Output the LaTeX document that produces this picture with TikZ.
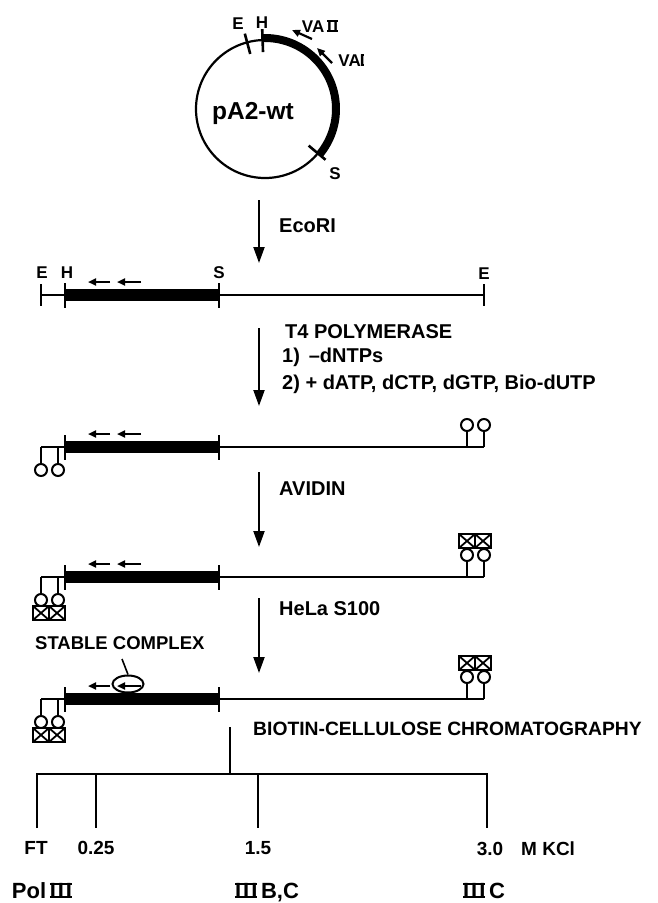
\documentclass[tikz,border=0pt]{standalone}
\usepackage{fontspec}
\setmainfont{Liberation Sans}
\usetikzlibrary{arrows.meta,calc,shapes.geometric}
\newcommand{\fsz}[1]{\fontsize{#1}{#1}\selectfont\bfseries}
\newcommand{\barnum}[2]{\setbox0\hbox{#2}%
  \rlap{\raisebox{\dimexpr\ht0-#1\relax}{\rule{\wd0}{#1}}}%
  \rlap{\rule{\wd0}{#1}}\box0}
\begin{document}
\begin{tikzpicture}[x=1pt,y=-1pt,
  lbl/.style={inner sep=0pt, anchor=base},
  lblw/.style={inner sep=0pt, anchor=base west},
  thinl/.style={line width=2.4pt},
  barl/.style={line width=12pt},
  tickl/.style={line width=2.6pt},
  mainarrow/.style={line width=2pt, -{Triangle[length=16pt,width=11pt]}},
  smallarrow/.style={line width=2.2pt, -{Triangle[length=8pt,width=7pt]}},
  bead/.style={circle, draw, line width=2pt, minimum size=12pt, inner sep=0pt},
  xbox/.style={line width=1.8pt}]
\useasboundingbox (0,0) rectangle (658,903);
% plasmid
\coordinate (C) at (265,109);
\node[circle, draw, line width=2.2pt, minimum size=138pt, inner sep=0pt] (plasmid) at (C) {};
\draw[line width=8pt] ($(C)+(92:71pt)$) arc[start angle=92, end angle=-40, radius=71pt];
\draw[tickl] ($(C)+(105:57pt)$) -- ($(C)+(105:78pt)$);
\draw[tickl] ($(C)+(92:57pt)$) -- ($(C)+(92:80pt)$);
\draw[tickl] ($(C)+(-40:57pt)$) -- ($(C)+(-40:79pt)$);
\node[lbl, font=\fsz{17}] (pe) at (238,29) {E};
\node[lbl, font=\fsz{17}] (ph) at (262,28) {H};
\node[lbl, font=\fsz{17}] (ps) at (335,179) {S};
\node[lbl, font=\fsz{17}] (va2) at (320,32) {VA\,\barnum{1.6pt}{I\kern1.5pt I}};
\node[lbl, font=\fsz{17}] (va1) at (351,66) {VA\barnum{1.6pt}{\kern-1pt I\kern-1pt}};
\coordinate (va2s) at (312,39); \coordinate (va2e) at (292,30);
\coordinate (va1s) at (332,63); \coordinate (va1e) at (317,48);
\draw[smallarrow] (va2s) -- (va2e);
\draw[smallarrow] (va1s) -- (va1e);
\node[lbl, font=\fsz{24.5}] (pname) at (253,119) {pA2-wt};
% main arrows
\coordinate (a1s) at (259,200); \coordinate (a1e) at (259,263);
\coordinate (a2s) at (259,328); \coordinate (a2e) at (259,406);
\coordinate (a3s) at (259,472); \coordinate (a3e) at (259,547);
\coordinate (a4s) at (259,598); \coordinate (a4e) at (259,673);
\draw[mainarrow] (a1s) -- (a1e);
\draw[mainarrow] (a2s) -- (a2e);
\draw[mainarrow] (a3s) -- (a3e);
\draw[mainarrow] (a4s) -- (a4e);
\node[lblw, font=\fsz{20}] (eco) at (279,232) {EcoRI};
\node[lblw, font=\fsz{20}] (t4) at (285,338) {T4 POLYMERASE};
\node[lblw, font=\fsz{20}] (st1) at (282,362) {1) \,–dNTPs};
\node[lblw, font=\fsz{20}] (st2) at (282,389) {2) + dATP, dCTP, dGTP, Bio-dUTP};
\node[lblw, font=\fsz{20}] (avi) at (279,495) {AVIDIN};
\node[lblw, font=\fsz{20}] (hela) at (279,615) {HeLa S100};
% DNA lines
\foreach \k/\Y in {1/295,2/447,3/577,4/699}{
  \coordinate (L\k) at (41,\Y);
  \coordinate (H\k) at (65,\Y);
  \coordinate (S\k) at (219,\Y);
  \coordinate (E\k) at (484,\Y);
  \draw[thinl] (L\k) -- (H\k);
  \draw[barl] (H\k) -- (S\k);
  \draw[thinl] (S\k) -- (E\k);
  \draw[tickl] ($(H\k)+(0,-12)$) -- ($(H\k)+(0,13)$);
  \draw[tickl] ($(S\k)+(0,-12)$) -- ($(S\k)+(0,13)$);
  \draw[smallarrow] (110,\Y-13) -- (88,\Y-13);
}
\foreach \k/\Y in {1/295,2/447,3/577}{
  \draw[smallarrow] (141,\Y-13) -- (117,\Y-13);
}
% line 1 ends
\draw[tickl] ($(L1)+(0,-11)$) -- ($(L1)+(0,11)$);
\draw[tickl] ($(E1)+(0,-11)$) -- ($(E1)+(0,11)$);
\node[lbl, font=\fsz{17}] (l1e) at (42,278) {E};
\node[lbl, font=\fsz{17}] (l1h) at (67,278) {H};
\node[lbl, font=\fsz{17}] (l1s) at (219,278) {S};
\node[lbl, font=\fsz{17}] (l1e2) at (484,279) {E};
% biotin beads, lines 2-4
\foreach \k/\Y in {2/447,3/577,4/699}{
  \node[bead] (lb1\k) at (41,\Y+23) {};
  \node[bead] (lb2\k) at (58,\Y+23) {};
  \draw[thinl] (L\k) -- (lb1\k.north);
  \draw[thinl] (58,\Y) -- (lb2\k.north);
  \node[bead] (rb1\k) at (467,\Y-22) {};
  \node[bead] (rb2\k) at (484,\Y-22) {};
  \draw[thinl] (467,\Y) -- (rb1\k.south);
  \draw[thinl] (E\k) -- (rb2\k.south);
}
% avidin boxes
\foreach \k/\Y in {3/577,4/699}{
  \foreach \bx in {33,49}{
    \draw[xbox] (\bx,\Y+29) rectangle (\bx+16,\Y+43);
    \draw[xbox] (\bx,\Y+29) -- (\bx+16,\Y+43);
    \draw[xbox] (\bx+16,\Y+29) -- (\bx,\Y+43);
  }
  \foreach \bx in {459,475}{
    \draw[xbox] (\bx,\Y-43) rectangle (\bx+16,\Y-29);
    \draw[xbox] (\bx,\Y-43) -- (\bx+16,\Y-29);
    \draw[xbox] (\bx+16,\Y-43) -- (\bx,\Y-29);
  }
}
% stable complex
\node[draw, ellipse, line width=2pt, minimum width=31pt, minimum height=17pt, inner sep=0pt] (cplx) at (128,684) {};
\draw[smallarrow] (141,686) -- (117,686);
\node[lblw, font=\fsz{18.5}] (stab) at (35,649) {STABLE COMPLEX};
\coordinate (lead) at (122,659);
\draw[line width=1.6pt] (lead) -- (cplx.north);
% chromatography
\node[lblw, font=\fsz{19.3}] (bio) at (253,735) {BIOTIN-CELLULOSE CHROMATOGRAPHY};
\coordinate (t0) at (230,727); \coordinate (t1) at (230,774);
\coordinate (ftt) at (37,774); \coordinate (ftb) at (37,828);
\coordinate (q1t) at (96,774); \coordinate (q1b) at (96,828);
\coordinate (q2t) at (258,774); \coordinate (q2b) at (258,828);
\coordinate (q3t) at (487,774); \coordinate (q3b) at (487,828);
\draw[thinl] (t0) -- (t1);
\draw[thinl] (ftb) -- (ftt) -- (q3t) -- (q3b);
\draw[thinl] (q1t) -- (q1b);
\draw[thinl] (q2t) -- (q2b);
\node[lbl, font=\fsz{19}] (ft) at (36,854) {FT};
\node[lbl, font=\fsz{19}] (f025) at (96,854) {0.25};
\node[lbl, font=\fsz{19}] (f15) at (258,854) {1.5};
\node[lbl, font=\fsz{19}] (f30) at (490,855) {3.0};
\node[lblw, font=\fsz{19}] (mkcl) at (521,855) {M KCl};
\node[lbl, font=\fsz{22}] (pol) at (42,898) {Pol\,\barnum{2pt}{I\kern2pt I\kern2pt I}};
\node[lbl, font=\fsz{22}] (pbc) at (267,898) {\barnum{2pt}{I\kern2pt I\kern2pt I}\,B,C};
\node[lbl, font=\fsz{22}] (pc) at (484,898) {\barnum{2pt}{I\kern2pt I\kern2pt I}\,C};
\end{tikzpicture}
\end{document}
